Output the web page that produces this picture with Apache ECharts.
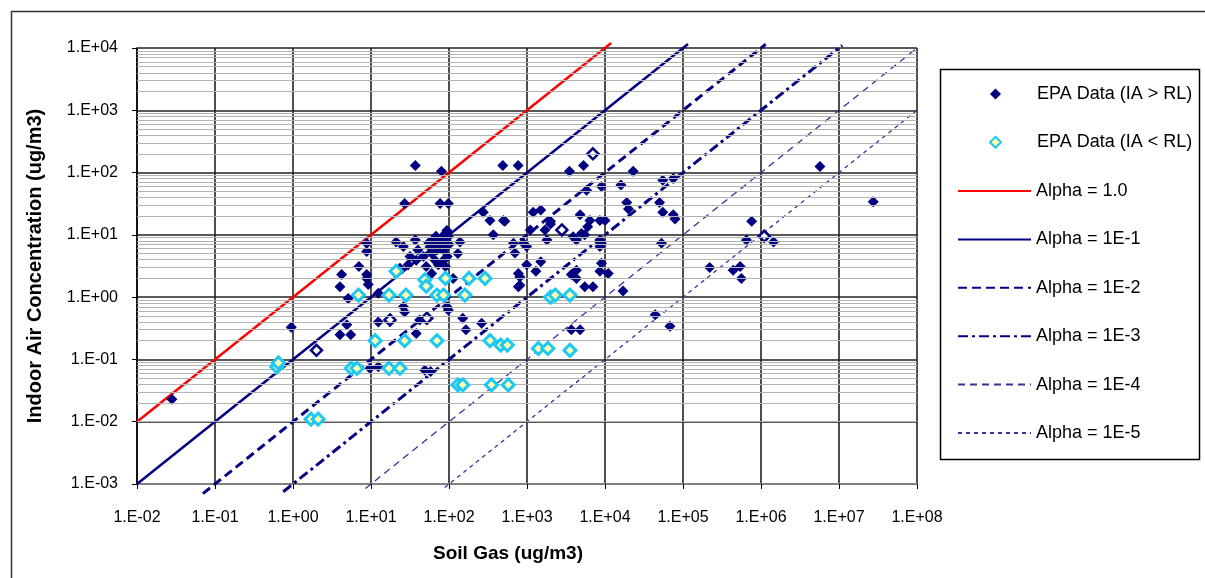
<!DOCTYPE html>
<html><head><meta charset="utf-8">
<script src="https://cdn.jsdelivr.net/npm/echarts@6/dist/echarts.min.js"></script>
<style>html,body{margin:0;padding:0;background:#fff}#c{width:1205px;height:578px}</style>
</head><body><div id="c"></div>
<script>
// ---- data (x = soil gas, y = indoor air, ug/m3) ----
const epaAbove = [
  [0.028,0.023],[0.95,0.33],
  [4.0,0.25],[5.5,0.25],[4.9,0.36],[5.1,0.95],[4.0,1.47],[4.2,2.3],[7.0,3.1],[8.8,2.3],[9.2,1.6],[8.8,5.4],[8.8,7.3],[8.8,2.0],
  [12.4,1.15],[12.4,0.40],[26,0.70],[27,0.58],[38,0.26],[42,0.43],[9.7,0.072],[12.4,0.076],[49,0.067],[58,0.064],[94,0.70],[98,0.62],[150,0.46],[165,0.30],[262,0.38],[775,2.4],[775,1.47],
  [37,130],[80,105],[490,130],[27,32],[77,32],[98,32],[275,23],[335,17],[500,17],[370,10],[95,11],
  [21,7.7],[26,6.5],[37,8.3],[40,5.7],[57,6.4],[63,8.3],[70,5.7],[73,7.7],[77,6.9],[80,8.9],[85,5.7],[90,10.5],[94,11.8],[98,9.3],[66,3.9],[73,3.3],[47,4.5],[51,3.1],[85,3.9],[90,3.1],[38,3.9],[30,3.3],[23.5,2.9],[31.6,4.5],[138,7.7],[130,5.0],[60,2.4],[113,2.0],
  [65,7.0],[75,6.0],[82,7.5],[88,6.5],[92,8.0],[68,9.5],[60,5.0],[95,4.5],[100,7.0],[55,7.5],
  [770,130],[3500,105],[5300,130],[23000,105],[16000,63],[9000,60],[5800,52],[55000,75],[75000,80],[19000,33],[20000,26],[50000,33],[55000,23],[75000,21],[79000,18],[4800,21],[1200,23],[1500,25],[2000,16.5],[2000,15],[1100,12],[1700,12],[6400,17],[8600,17],[10000,17],[6000,13.5],[5000,10.5],[3900,9.3],[4300,8.3],[5500,10],[1800,8.3],[8600,8.3],[9000,7.3],[8600,6.5],[53000,7.3],[670,7.3],[900,7.3],[700,5.1],[990,6.5],[990,3.3],[1500,3.7],[4300,2.7],[9000,3.5],[8600,2.6],[810,2.1],[810,1.55],[1300,2.6],[3700,2.3],[4300,2.0],[5500,1.47],[7000,1.47],[11000,2.4],[17000,1.25],[3700,0.30],[4800,0.30],[44000,0.52],[68000,0.34],[520,16.5],
  [5.7e6,125],[2.75e7,34],[7.6e5,16.5],[6.5e5,8.3],[1.45e6,7.7],[2.2e5,3.0],[4.4e5,2.7],[5.4e5,3.1],[5.6e5,2.0]
];
const epaAboveOpen = [[2.0,0.14],[17.5,0.43],[52,0.46],[2800,12],[7000,200],[1.1e6,9.5]];
const epaBelow = [
  [0.62,0.076],[0.65,0.088],[1.7,0.011],[2.1,0.011],
  [5.6,0.072],[6.6,0.072],[17,0.072],[23.5,0.072],
  [11.3,0.20],[27,0.20],[70,0.20],[335,0.20],[460,0.17],[560,0.17],[1400,0.15],[1850,0.15],[3550,0.14],
  [130,0.039],[150,0.039],[350,0.039],[575,0.039],
  [6.9,1.08],[17,1.08],[28,1.08],[70,1.08],[85,1.08],[160,1.08],[2000,1.0],[2300,1.08],[3550,1.08],
  [21,2.6],[49,1.9],[51,1.5],[90,2.0],[180,2.0],[290,2.0]
];
// attenuation-factor reference lines (end points)
const alpha1   = [[0.01,0.01],[1.2e4,1.2e4]];
const alpha1e1 = [[0.01,0.001],[1.16e5,1.16e4]];
const alpha1e2 = [[0.07,7e-4],[1.15e6,1.15e4]];
const alpha1e3 = [[0.75,7.5e-4],[1.1e7,1.1e4]];
const alpha1e4 = [[8.5,8.5e-4],[1e8,1e4]];
const alpha1e5 = [[88,8.8e-4],[1e8,1e3]];
const seriesNames = ['EPA Data (IA > RL)','EPA Data (IA < RL)','Alpha = 1.0','Alpha = 1E-1','Alpha = 1E-2','Alpha = 1E-3','Alpha = 1E-4','Alpha = 1E-5'];
const xTitle = 'Soil Gas (ug/m3)';
const yTitle = 'Indoor Air Concentration (ug/m3)';
const xRange = [1e-2, 1e8];
const yRange = [1e-3, 1e4];
const minorMultipliers = [2,3,4,5,6,7,8,9];
const yDecades = [1e-3,1e-2,1e-1,1,10,100,1000];

const FONT = '"Liberation Sans", Arial, sans-serif';
function sci(v){
  const e = Math.round(Math.log10(v));
  return '1.E' + (e < 0 ? '-' : '+') + String(Math.abs(e)).padStart(2,'0');
}
const minorLines = [];
yDecades.forEach(d => minorMultipliers.forEach(m => minorLines.push({yAxis: d*m})));

const navy = '#000080';
const chart = echarts.init(document.getElementById('c'), null, {renderer:'canvas'});
function lineSeries(name, data, color, width, type){
  return {name, type:'line', data, symbol:'none', showSymbol:false, clip:false, silent:true,
    lineStyle:{color, width, type}, itemStyle:{color}, z:3, animation:false};
}
const aboveData = epaAbove.map(p => p).concat(epaAboveOpen.map(p => ({value:p, itemStyle:{color:'#ffffff', borderColor:navy, borderWidth:2.5}})));
chart.setOption({
  animation:false,
  textStyle:{fontFamily:FONT, color:'#000'},
  grid:{left:137, top:48, right:288, bottom:94, containLabel:false},
  xAxis:{type:'log', logBase:10, min:xRange[0], max:xRange[1], splitNumber:10, interval:1,
    name:xTitle, nameLocation:'middle', nameGap:60,
    nameTextStyle:{fontSize:19, fontWeight:'bold', color:'#000', fontFamily:FONT, padding:[0,38,0,0]},
    axisLine:{show:true, onZero:false, lineStyle:{color:'#808080', width:2}},
    axisTick:{show:true, length:5, lineStyle:{color:'#000', width:1}},
    axisLabel:{formatter:sci, fontSize:16, color:'#000', margin:26, fontFamily:FONT},
    splitLine:{show:true, lineStyle:{color:'#222', width:1.6}},
    minorTick:{show:false}, minorSplitLine:{show:false}},
  yAxis:{type:'log', logBase:10, min:yRange[0], max:yRange[1], splitNumber:7,
    name:yTitle, nameLocation:'middle', nameGap:92, nameRotate:90,
    nameTextStyle:{fontSize:20, fontWeight:'bold', color:'#000', fontFamily:FONT},
    axisLine:{show:true, onZero:false, lineStyle:{color:'#000', width:1.5}},
    axisTick:{show:true, length:5, lineStyle:{color:'#000', width:1}},
    axisLabel:{formatter:sci, fontSize:16, color:'#000', margin:19, fontFamily:FONT},
    splitLine:{show:true, lineStyle:{color:'#222', width:1.6}},
    minorTick:{show:false}, minorSplitLine:{show:false}},
  legend:[
    {data:seriesNames.slice(0,2), orient:'vertical', left:984, top:79, itemWidth:11, itemHeight:11, itemGap:28.3,
     selectedMode:false, itemStyle:{opacity:1},
     textStyle:{fontSize:18, lineHeight:20, color:'#000', fontFamily:FONT, padding:[0,0,0,31]}},
    {data:seriesNames.slice(2), orient:'vertical', left:952, top:176, itemWidth:73, itemHeight:14, itemGap:28.4,
     selectedMode:false, itemStyle:{color:'rgba(0,0,0,0)', borderWidth:0, opacity:0},
     textStyle:{fontSize:18, lineHeight:20, color:'#000', fontFamily:FONT}}
  ],
  graphic:[
    {type:'rect', left:9, top:9, shape:{x:0,y:0,width:1300,height:700}, style:{fill:'none', stroke:'#333', lineWidth:1.5}, silent:true, z:-1},
    {type:'rect', left:938, top:67, shape:{x:0,y:0,width:259,height:390}, style:{fill:'none', stroke:'#000', lineWidth:1.5}, silent:true}
  ],
  series:[
    {name:'minor', type:'line', data:[], silent:true, z:0, animation:false,
     markLine:{silent:true, symbol:['none','none'], label:{show:false}, animation:false,
       lineStyle:{color:'#b3b3b3', width:1, type:'solid'}, emphasis:{disabled:true}, data:minorLines}},
    lineSeries(seriesNames[2], alpha1, '#ff0000', 2.5, 'solid'),
    lineSeries(seriesNames[3], alpha1e1, navy, 2.5, 'solid'),
    lineSeries(seriesNames[4], alpha1e2, navy, 3, [9,5]),
    lineSeries(seriesNames[5], alpha1e3, navy, 3, [10,4,3,4]),
    lineSeries(seriesNames[6], alpha1e4, '#333399', 1.3, [7,5]),
    lineSeries(seriesNames[7], alpha1e5, '#333399', 1.3, [4,4]),
    {name:seriesNames[0], type:'scatter', data:aboveData, symbol:'diamond', symbolSize:11,
     itemStyle:{color:navy, opacity:1}, z:4, silent:true},
    {name:seriesNames[1], type:'scatter', data:epaBelow, symbol:'diamond', symbolSize:12,
     itemStyle:{color:'#ffffb0', borderColor:'#1ec8f5', borderWidth:3, opacity:1}, z:5, silent:true}
  ]
});
</script></body></html>
